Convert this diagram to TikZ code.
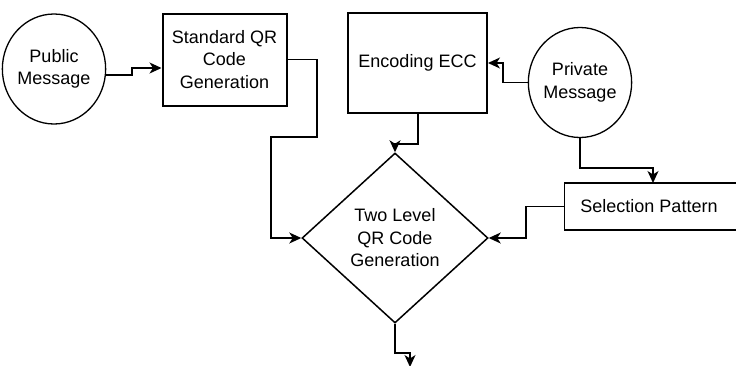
\documentclass[tikz,border=0pt]{standalone}
\usepackage{fontspec}
\setmainfont{Liberation Sans}
\usetikzlibrary{shapes.geometric,arrows.meta}

\begin{document}
\begin{tikzpicture}[x=1pt,y=-1pt,
  every node/.style={font=\fontsize{18}{22.5}\selectfont, align=center, inner sep=0pt},
  msg/.style={ellipse, draw, line width=1.3pt, minimum width=94pt, minimum height=110pt},
  heavybox/.style={rectangle, draw, line width=2pt},
  thinbox/.style={rectangle, draw, line width=1.3pt},
  decide/.style={diamond, draw, line width=1.5pt, minimum width=186pt, minimum height=170pt},
  conn/.style={draw, line width=1.3pt, -{Stealth[length=12pt,width=11pt,inset=3.5pt]}}
]
\useasboundingbox (0,0) rectangle (736,365);

% message sources
\node[msg] (pub) at (54,69) {Public\\Message};
\node[msg] (priv) at (580,82.5) {Private\\Message};

% processing blocks
\node[heavybox, minimum width=124pt, minimum height=92pt] (std) at (224.5,59.5)
  {Standard QR\\Code\\Generation};
\node[heavybox, minimum width=139pt, minimum height=100pt] (enc) at (417.5,63)
  {Encoding ECC};
\begin{scope}
  \clip (0,0) rectangle (736,365);
  \node[thinbox, minimum width=190pt, minimum height=47pt, anchor=west] (sel) at (564,206.5) {};
\end{scope}
\node at (649,206.5) {Selection Pattern};

% combining step
\node[decide] (dia) at (395,238) {Two Level\\QR Code\\Generation};

\coordinate (out) at (410,367);

% connectors
\draw[conn] ([yshift=-6pt]pub.east) -- (132,75) -- (132,68) -- ([yshift=-8.5pt]std.west);
\draw[conn] (std.east) -- (317,59.5) -- (317,137) -- (271,137) -- (271,238) -- (dia.west);
\draw[conn] (418,113) -- (418,144) -- (dia.north |- 0,144) -- (dia.north);
\draw[conn] (priv.west) -- (503,82.5) -- (503,63) -- (enc.east);
\draw[conn] (priv.south) -- (580,168) -- (653,168) -- (653,183);
\draw[conn] (564,206.5) -- (526,206.5) -- (526,238) -- (dia.east);
\draw[conn] (dia.south) -- (395,353) -- (410,353) -- (out);
\end{tikzpicture}
\end{document}
